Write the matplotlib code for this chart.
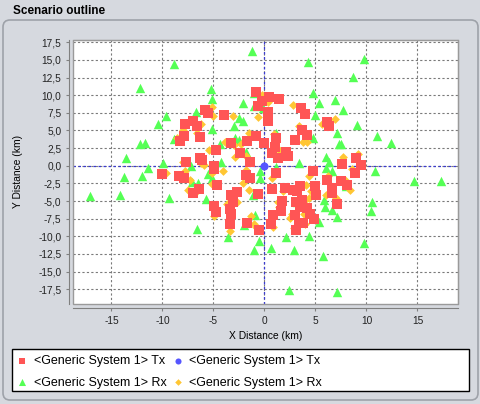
import matplotlib
matplotlib.use("Agg")
import matplotlib.pyplot as plt
from matplotlib.patches import Rectangle, FancyBboxPatch
from matplotlib.transforms import IdentityTransform
from matplotlib.ticker import FuncFormatter, MultipleLocator

# --- data (km) ---
# <Generic System 1> Tx  (red squares)
tx_x = [-0.8, -0.6, -0.2, -5.8, -5.5, -4.0, -7.8, -7.0, -6.6, -6.3, -7.9, -8.3, -4.8, -3.3, -1.7,
        -0.8, -2.4, -7.7, -6.3, -6.1, -4.9, -1.4,
        0.4, 1.4, 0.3, 0.3, 3.6, 4.0, 6.1, 6.3, 3.7, 4.2, 3.0, 1.1, 0.0, 1.0, 0.7, 2.1, 2.3, 1.3,
        9.0, 9.5, 7.6,
        -10.0, -8.4, -7.9, -4.9, -6.4, -7.0, -4.7, -3.3, -2.7, -3.1, -4.9, -4.8, -3.4, -3.3, -3.4,
        -1.7, -0.5, -0.6, -1.8, -1.4,
        1.1, 4.8, 0.7, 2.0, 2.8, 3.5, 3.2, 5.0, 6.1, 7.5, 8.1, 8.9, 6.6, 6.6, 5.1, 1.7, 3.1, 3.5,
        4.2, 1.6, 3.0, 4.5, 4.9, 7.1, 0.8, 0.6, 3.4, 3.8, 3.1, 3.7]
tx_y = [10.4, 8.5, 9.2, 7.9, 7.5, 7.2, 5.9, 6.3, 5.6, 4.1, 4.2, 3.5, 2.2, 3.2, 3.5,
        4.2, 1.8, 0.5, 1.1, 0.8, 0.0, 0.5,
        9.8, 9.5, 7.6, 6.4, 8.2, 7.3, 6.2, 5.6, 5.1, 4.3, 3.7, 3.9, 3.2, 2.6, 1.8, 2.0, 1.4, 1.1,
        1.1, 0.1, 0.3,
        -1.2, -1.5, -1.7, -0.5, -3.3, -3.9, -2.7, -4.2, -3.7, -5.1, -5.7, -6.5, -6.2, -6.8, -8.3,
        -8.1, -9.1, -4.0, -1.3, -1.8,
        -1.0, -0.7, -3.3, -3.2, -3.4, -2.9, -3.6, -2.8, -2.0, -2.2, -2.7, -1.0, -3.1, -3.9, -4.1,
        -5.0, -5.1, -5.8, -6.0, -6.4, -7.0, -6.9, -7.6, -5.4, -7.0, -8.2, -8.1, -8.1, -9.1, -4.8]

# <Generic System 1> Rx  (green triangles)
rx_x = [-8.9, -12.2, -1.2, 4.3, 9.8, 8.7, -5.2, -5.1, -9.7, -10.4, -6.7, -5.1, -8.9, -12.2, -11.7,
        -13.6, -9.9, -11.4, -12.0, -13.8, -7.1, -6.5, -7.2, -5.5, -5.1, -4.3, -4.4, -3.0, -2.5,
        -2.1, -1.0, -2.9, -2.5, -1.8, -0.1,
        -17.1, -14.2, -9.4, -5.7, -6.6, -3.6, -1.1, -0.9, -0.5, -2.0, -1.0, -0.4, -0.4,
        4.8, 5.3, 6.9, 7.7, 5.0, 9.1, 7.1, 11.0, 12.4, 7.3, 7.5, 6.0, 6.3, 3.4, 1.1, 4.8, -1.0,
        -2.1, 1.1,
        10.8, 14.7, 17.3, 6.6, 6.0, 8.0, 10.5, 10.4, 5.8, 5.9, 6.6, 7.1, 5.3, 4.4, 2.1, 0.6, 2.9,
        5.7, 9.8, 2.4, 7.1, 3.2]
rx_y = [14.4, 11.0, 16.3, 14.7, 15.1, 12.6, 10.9, 9.5, 7.0, 5.9, 7.6, 5.2, 3.8, 3.1, 3.2,
        1.1, 0.4, -0.3, -1.4, -1.6, -2.3, -2.5, -0.1, -1.1, -1.8, 0.5, 3.1, 5.7, 6.8,
        8.9, 10.3, 3.9, 3.6, 1.9, 8.2,
        -4.3, -4.1, -4.5, -4.7, -8.9, -10.1, -4.1, -7.0, -10.7, -8.4, -12.0, -0.7, -1.8,
        10.3, 8.9, 9.3, 7.9, 7.2, 5.8, 4.6, 4.2, 3.2, 3.1, 3.1, 1.3, 0.5, 0.4, 4.7, 3.9, 8.5,
        6.4, -0.2,
        -0.8, -2.2, -2.1, -0.7, -0.3, -2.9, -5.1, -6.4, -4.9, -5.8, -6.3, -7.3, -8.0, -9.9, -10.1,
        -11.7, -11.9, -12.8, -10.9, -17.6, -17.9, -5.2]

# second <Generic System 1> Tx  (blue circle)
tx0_x = [0.0]
tx0_y = [0.0]

# second <Generic System 1> Rx  (yellow diamonds)
rx2_x = [-0.2, -5.1, -5.0, -3.1, -0.6, -6.2, -8.0, -6.6, -1.5, -3.9, -2.3, -5.4, -2.9, -1.8,
         -8.0, -5.9, -8.6, -3.0, -6.2,
         0.3, 2.8, 6.9, 5.6, 3.4, 0.9, 3.8, 4.2, 1.4, 2.0, 7.7, 9.2,
         -9.7, -7.8, -4.1, -5.1, -7.3, -7.5, -6.6, -4.9, -3.4, -3.7, -3.1, -2.7, -2.1, -1.8, -1.5,
         -5.1, -1.0, -0.8, -1.3,
         0.7, 1.8, 4.1, 4.4, 4.6, 8.6, 7.9, 8.4, 6.0, 7.0, 4.0, 4.4, 1.3, 1.4, 2.7, 3.9, 0.8, 2.5,
         4.0, 2.9, 6.2, 3.9]
rx2_y = [10.0, 8.4, 7.0, 7.1, 6.9, 5.9, 5.1, 4.7, 4.6, 3.3, 3.1, 2.2, 1.3, 1.4,
         0.5, 0.1, 3.9, 2.9, 0.4,
         9.1, 8.6, 6.7, 5.9, 5.7, 4.5, 3.4, 3.4, 2.3, 1.7, 1.2, 1.7,
         -1.0, -0.8, -0.7, -1.0, -2.0, -3.4, -3.6, -7.1, -9.2, -5.4, -3.9, -5.1, -2.4, -0.6, -3.5,
         -2.6, -8.2, -8.7, -7.1,
         -1.8, -3.6, -2.7, -1.5, -3.6, -0.4, -2.0, -3.5, -4.1, -4.6, -4.8, -4.6, -5.1, -5.8, -6.9,
         -6.8, -8.7, -7.4, -8.3, -8.8, -1.4, -5.5]

label_tx = "<Generic System 1> Tx"
label_rx = "<Generic System 1> Rx"

plt.rcParams["font.family"] = ["Liberation Sans", "DejaVu Sans"]

bg = "#D6D9DF"
fig = plt.figure(figsize=(4.81, 4.04), dpi=100, facecolor=bg)

# rounded panel + title
panel = FancyBboxPatch((3, 4), 475, 380, boxstyle="round,pad=0,rounding_size=7",
                       transform=IdentityTransform(), facecolor=bg, edgecolor="#9EA2A9",
                       linewidth=1.2, zorder=-2)
fig.patches.append(panel)
fig.text(13 / 481, 1 - 11 / 404, "Scenario outline", fontsize=8.5, fontweight="bold",
         va="center", ha="left")

ax = fig.add_axes([0.1511, 0.2475, 0.8017, 0.6547])
ax.set_facecolor("white")

h_rx = ax.scatter(rx_x, rx_y, marker="^", s=46, color="#55FF55", linewidths=0, zorder=3)
h_rx2 = ax.scatter(rx2_x, rx2_y, marker="D", s=20, color="#FFC633", linewidths=0, zorder=4)
h_tx = ax.scatter(tx_x, tx_y, marker="s", s=42, color="#FF5555", linewidths=0, zorder=5)
h_tx0 = ax.scatter(tx0_x, tx0_y, marker="o", s=34, color="#5555FF", linewidths=0, zorder=6)

ax.set_xlim(-18.8, 19.0)
ax.set_ylim(-19.6, 17.9)
ax.xaxis.set_major_locator(MultipleLocator(5))
ax.yaxis.set_major_locator(MultipleLocator(2.5))
ax.xaxis.set_major_formatter(FuncFormatter(lambda v, p: "%d" % round(v)))
ax.yaxis.set_major_formatter(FuncFormatter(lambda v, p: ("%.1f" % v).replace(".", ",")))

ax.grid(True, color="#7A7A7A", linestyle=(0, (2, 2)), linewidth=0.8, zorder=1)
ax.set_axisbelow(True)
ax.axhline(0, color="#3A3AD0", linestyle=(0, (2, 2)), linewidth=0.9, zorder=2)
ax.axvline(0, color="#3A3AD0", linestyle=(0, (2, 2)), linewidth=0.9, zorder=2)

for side in ["top", "right"]:
    ax.spines[side].set_color("#808080")
for side in ["left", "bottom"]:
    ax.spines[side].set_position(("outward", 3))
    ax.spines[side].set_color("#808080")
ax.add_patch(Rectangle((0, 0), 1, 1, transform=ax.transAxes, fill=False,
                       edgecolor="#9A9A9A", linewidth=1, clip_on=False, zorder=7))

ax.tick_params(length=2.4, width=0.8, color="#808080", labelsize=7.3, labelcolor="#222222")
ax.tick_params(axis="x", pad=3.3)
ax.tick_params(axis="y", pad=2.8)

ax.set_xlabel("X Distance (km)", fontsize=7.4)
ax.set_ylabel("Y Distance (km)", fontsize=7.4)
ax.xaxis.set_label_coords(0.5, -0.102)
ax.yaxis.set_label_coords(-0.128, 0.5)

# legend box
fig.patches.append(Rectangle((11.7, 12.7), 457, 42.3, transform=IdentityTransform(),
                             facecolor="white", edgecolor="black", linewidth=1, zorder=-1))
fig.legend([h_tx, h_rx, h_tx0, h_rx2], [label_tx, label_rx, label_tx, label_rx],
           ncol=2, loc="upper left", bbox_to_anchor=(16 / 481, 1 - 355 / 404),
           frameon=False, fontsize=9, handlelength=1.0, handletextpad=0.4,
           columnspacing=0.45, labelspacing=0.78, borderpad=0, borderaxespad=0,
           markerscale=0.75)

fig.savefig("out.png", dpi=100, facecolor=bg)
